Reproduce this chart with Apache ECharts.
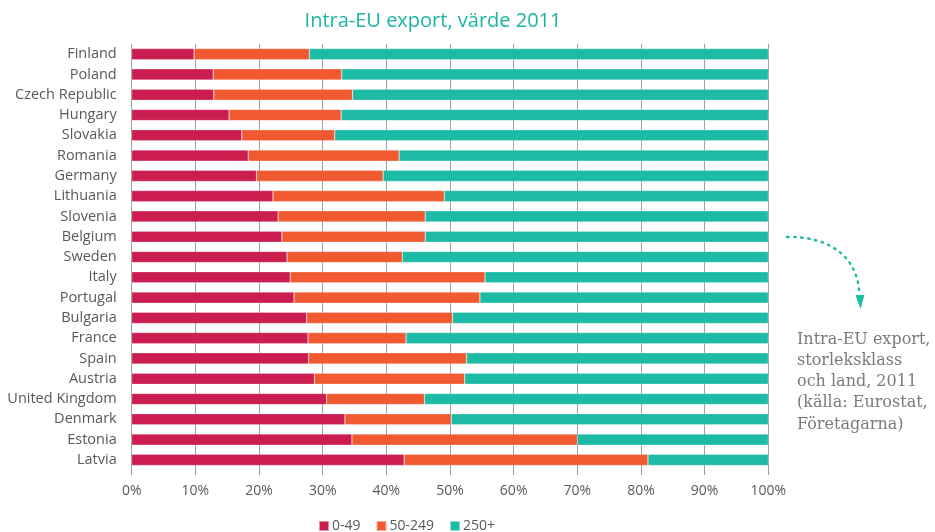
<!DOCTYPE html>
<html>
<head>
<meta charset="utf-8">
<script src="https://cdn.jsdelivr.net/npm/echarts@6/dist/echarts.min.js"></script>
<style>html,body{margin:0;padding:0;background:#fff}#c{width:935px;height:532px}</style>
</head>
<body>
<div id="c"></div>
<script>
const categories = ["Finland","Poland","Czech Republic","Hungary","Slovakia","Romania","Germany","Lithuania","Slovenia","Belgium","Sweden","Italy","Portugal","Bulgaria","France","Spain","Austria","United Kingdom","Denmark","Estonia","Latvia"];
const small = [9.8,12.8,12.9,15.3,17.3,18.3,19.6,22.2,23.0,23.6,24.4,24.9,25.5,27.5,27.7,27.8,28.7,30.6,33.5,34.6,42.8];
const medium = [18.1,20.2,21.8,17.6,14.6,23.7,19.9,26.9,23.1,22.5,18.1,30.6,29.2,22.9,15.4,24.8,23.6,15.4,16.7,35.4,38.3];
const large = small.map((v,i)=>+(100 - v - medium[i]).toFixed(1));
const seriesNames = ["0-49","50-249","250+"];
const xTicks = [0,10,20,30,40,50,60,70,80,90,100];

const colors = ['#CB1D50','#F15A30','#1DBBA6'];
const chart = echarts.init(document.getElementById('c'));
const mk = (name, data, i) => ({
  name, type:'bar', stack:'t', data, barCategoryGap:'45%',
  itemStyle:{color:colors[i], borderColor:'rgba(255,255,255,0.5)', borderWidth:0.5},
  emphasis:{disabled:true}
});
chart.setOption({
  animation:false,
  title:{text:'Intra-EU export, värde 2011', left:428, top:6, textAlign:'center',
    textStyle:{color:'#1AB5A3', fontFamily:'Open Sans', fontWeight:'normal', fontSize:20}},
  legend:{top:519, left:318, padding:0, itemWidth:10, itemHeight:10, itemGap:15, icon:'rect',
    textStyle:{color:'#595959', fontFamily:'Open Sans', fontSize:14, padding:[0,0,0,-2]}, data:seriesNames},
  grid:{left:131.7, right:166.7, top:44, bottom:62, containLabel:false},
  xAxis:{type:'value', min:xTicks[0], max:xTicks[xTicks.length-1], interval:10,
    axisLine:{show:false}, axisTick:{show:true, length:5, lineStyle:{color:'#999'}},
    splitLine:{show:true, lineStyle:{color:'#A0A0A0', width:1}},
    axisLabel:{formatter:'{value}%', color:'#595959', fontFamily:'Open Sans', fontSize:14, margin:14}},
  yAxis:{type:'category', inverse:true, data:categories,
    axisLine:{show:true, lineStyle:{color:'#A0A0A0'}}, axisTick:{show:false},
    axisLabel:{color:'#595959', fontFamily:'Open Sans', fontSize:14.5, margin:15}},
  series:[mk(seriesNames[0], small, 0), mk(seriesNames[1], medium, 1), mk(seriesNames[2], large, 2)],
  graphic:[
    {type:'bezierCurve', shape:{x1:787, y1:237, cpx1:835, cpy1:236, cpx2:858, cpy2:262, x2:859, y2:292},
     style:{stroke:'#1DBBA6', lineWidth:2.4, lineDash:[1.5,5.5], lineCap:'round', fill:null}},
    {type:'polygon', shape:{points:[[855.5,295],[864.5,295],[860.5,309]]}, style:{fill:'#1DBBA6'}},
    {type:'text', left:797, top:329, style:{
      text:'Intra-EU export,\nstorleksklass\noch land, 2011\n(källa: Eurostat,\nFöretagarna)',
      fill:'#7a7a7a', font:'16px "DejaVu Serif"', lineHeight:21.2}}
  ]
});
</script>
</body>
</html>
